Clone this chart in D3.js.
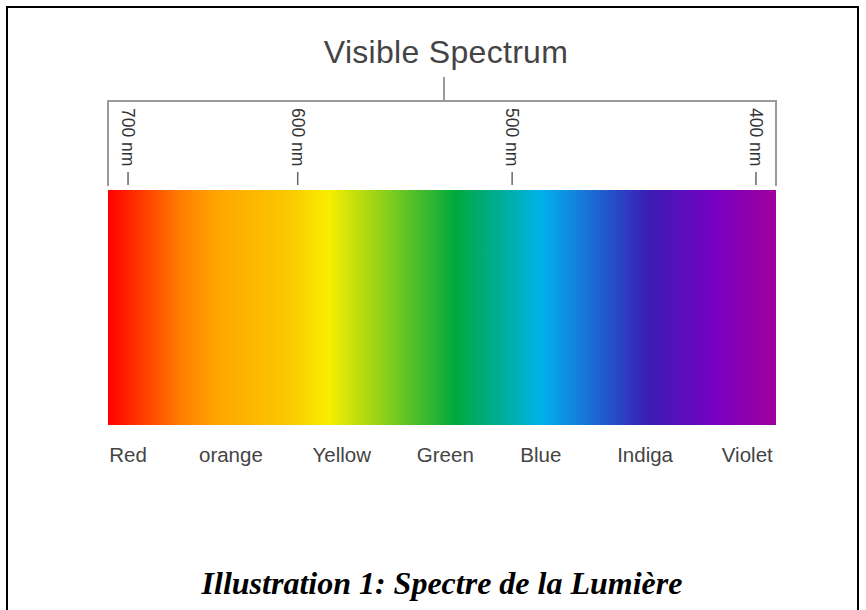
<!DOCTYPE html>
<html>
<head>
<meta charset="utf-8">
<script src="https://cdn.jsdelivr.net/npm/d3@7"></script>
<style>
  body { margin: 0; background: #fff; }
</style>
</head>
<body>
<svg id="chart" width="866" height="610"></svg>
<script>
// colour names under the spectrum
const colourNames = ["Red", "orange", "Yellow", "Green", "Blue", "Indiga", "Violet"];
// where each name sits along the spectrum (0 = left, 1 = right)
const namePos = [0.03, 0.184, 0.35, 0.505, 0.648, 0.804, 0.957];

// wavelength ticks, and their place along the spectrum
const tickNm = [700, 600, 500, 400];
const tickPos = [0.03, 0.284, 0.605, 0.97];

// gradient stops
const stopOffsets = [0, 0.11, 0.16, 0.27, 0.33, 0.52, 0.65, 0.81, 0.91, 1];
const stopColours = ["#ff0000", "#ff7e00", "#ffa400", "#fbc800", "#f8ee00",
                     "#00a93c", "#00b1ec", "#3a1cb4", "#7800c2", "#a1009a"];

const svg = d3.select("#chart");

const x = d3.scaleLinear().domain([0, 1]).range([108, 776]);
const nm = d3.scaleLinear().domain(tickNm).range(tickPos);

// frame
svg.append("path")
  .attr("d", "M7,614V7H858V614")
  .attr("fill", "none")
  .attr("stroke", "#000")
  .attr("stroke-width", 2);

// gradient
const grad = svg.append("defs").append("linearGradient")
  .attr("id", "spec")
  .attr("x1", "0%").attr("x2", "100%");

grad.selectAll("stop")
  .data(stopOffsets)
  .join("stop")
  .attr("offset", (d) => d)
  .attr("stop-color", (d, i) => stopColours[i]);

svg.append("rect")
  .attr("x", x(0))
  .attr("y", 190)
  .attr("width", x(1) - x(0))
  .attr("height", 235)
  .attr("fill", "url(#spec)");

// title
svg.append("text")
  .attr("x", 446)
  .attr("y", 63)
  .attr("text-anchor", "middle")
  .style("font-family", "Liberation Sans, Arial, sans-serif")
  .style("font-size", "32px")
  .style("letter-spacing", "0.3px")
  .style("fill", "#444")
  .text("Visible Spectrum");

// bracket
const bracket = svg.append("g")
  .attr("fill", "none")
  .attr("stroke", "#9a9a9a")
  .attr("stroke-width", 2);

bracket.append("path")
  .attr("d", `M${x(0)},186V101H${x(1)}V186`);

bracket.append("line")
  .attr("x1", 444).attr("x2", 444)
  .attr("y1", 77).attr("y2", 101);

// nm ticks
const ticks = svg.selectAll(".nm")
  .data(tickNm)
  .join("g")
  .attr("class", "nm")
  .attr("transform", (d) => `translate(${x(nm(d))},0)`);

ticks.append("line")
  .attr("y1", 172).attr("y2", 185)
  .attr("stroke", "#666")
  .attr("stroke-width", 1.5);

ticks.append("text")
  .attr("transform", "translate(0,108) rotate(90)")
  .attr("dy", "0.35em")
  .style("font-family", "Liberation Sans, Arial, sans-serif")
  .style("font-size", "17.5px")
  .style("fill", "#333")
  .text((d) => d + " nm");

// colour names
svg.selectAll(".name")
  .data(colourNames)
  .join("text")
  .attr("class", "name")
  .attr("x", (d, i) => x(namePos[i]))
  .attr("y", 462)
  .attr("text-anchor", "middle")
  .style("font-family", "Liberation Sans, Arial, sans-serif")
  .style("font-size", "20.5px")
  .style("fill", "#444")
  .text((d) => d);

// caption
svg.append("text")
  .attr("x", 442)
  .attr("y", 594)
  .attr("text-anchor", "middle")
  .style("font-family", "Liberation Serif, Times New Roman, serif")
  .style("font-size", "32px")
  .style("font-weight", "bold")
  .style("font-style", "italic")
  .text("Illustration 1: Spectre de la Lumière");
</script>
</body>
</html>
